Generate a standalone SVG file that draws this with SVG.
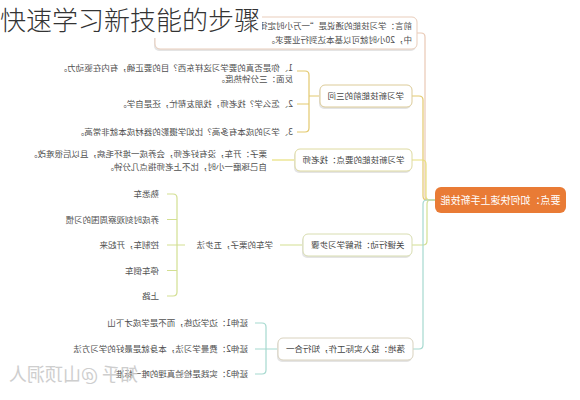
<svg xmlns="http://www.w3.org/2000/svg" width="580" height="400" viewBox="0 0 580 400">
<style>
text{font-family:"Noto Sans CJK SC","Noto Sans",sans-serif;}
.t{font-size:8.5px;fill:#505050}
.b{font-size:8.5px;fill:#444}
.sh{fill:#e4e4e4}
.c{fill:none;stroke-width:1.2;stroke-linejoin:round}
.o{stroke:#E9C9B5}.y{stroke:#E3C96E}.g{stroke:#E8E07C}.l{stroke:#D3DF92}.q{stroke:#A6D9CF}
.wm{font-size:18px;fill:#c9c9c9}
</style>
<rect width="580" height="400" fill="#fff"/>
<g transform="translate(580,0) scale(-1,1)">
<g id="connectors">
<path class="c o" d="M145,200 H151 Q155,200 155,196 V37 Q155,33 159,33 H163"/>
<path class="c y" d="M145,200 H153 Q157,200 157,196 V100 Q157,96 161,96 H168"/>
<path class="c g" d="M145,200 H150 Q154,200 154,196 V164 Q154,160 158,160 H168"/>
<path class="c l" d="M145,200 H149 Q153,200 153,204 V241 Q153,245 157,245 H168"/>
<path class="c q" d="M145,200 H153 Q157,200 157,204 V345 Q157,349 161,349 H167"/>
<path class="c y" d="M260,96 H271 M283,71 H275 Q271,71 271,75 V128 Q271,132 275,132 H283 M271,104 H283"/>
<path class="c g" d="M285,160 H308"/>
<path class="c l" d="M277,245 H300 M395,245 H403 M413,194 H407 Q403,194 403,198 V292 Q403,296 407,296 H413 M403,219.5 H413 M403,245 H413 M403,270.5 H413"/>
<path class="c q" d="M302,349 H314 M325,323 H318 Q314,323 314,327 V370 Q314,374 318,374 H325 M314,349 H325"/>
</g>
<g id="root">
<rect x="14" y="187" width="131" height="26" rx="6" fill="#E97B35"/>
<text x="79.5" y="203.5" font-size="10" fill="#fff" text-anchor="middle">要点：如何快速上手新技能</text>
</g>
<g id="preface">
<rect class="sh" x="164" y="19" width="262" height="32" rx="5"/>
<rect x="163" y="17" width="262" height="32" rx="5" fill="#fff" stroke="#E9CDBB"/>
<text class="t" x="168" y="29">前言：学习技能的通说是“一万小时定律”</text>
<text class="t" x="168" y="43">中，20小时就可以基本达到行业要求。</text>
</g>
<g id="b1">
<rect class="sh" x="169" y="87" width="92" height="22" rx="5"/>
<rect x="168" y="85" width="92" height="22" rx="5" fill="#fff" stroke="#DCCB98"/>
<text class="b" x="176" y="99">学习新技能前的三问</text>
</g>
<g id="b1c1">
<text class="t" x="287" y="70.5">1、你是否真的要学习这样东西？目的要正确，有内在驱动力。</text>
<text class="t" x="287" y="81.5">反面：三分钟热度。</text>
</g>
<g id="b1c2"><text class="t" x="287" y="107">2、怎么学？找老师，找朋友帮忙，还是自学。</text></g>
<g id="b1c3"><text class="t" x="287" y="135">3、学习的成本有多高？比如学摄影的器材成本就非常高。</text></g>
<g id="b2">
<rect class="sh" x="169" y="151" width="117" height="22" rx="5"/>
<rect x="168" y="149" width="117" height="22" rx="5" fill="#fff" stroke="#DEDAA0"/>
<text class="b" x="175.5" y="163">学习新技能的要点：找老师</text>
</g>
<g id="b2c1">
<text class="t" x="313" y="157">栗子：开车，没有好老师，会养成一堆坏毛病，且以后很难改。</text>
<text class="t" x="313" y="170">自己琢磨一小时，比不上老师指点几分钟。</text>
</g>
<g id="b3">
<rect class="sh" x="169" y="236" width="109" height="22" rx="5"/>
<rect x="168" y="234" width="109" height="22" rx="5" fill="#fff" stroke="#D8DDB0"/>
<text class="b" x="175.5" y="248">关键行动：拆解学习步骤</text>
</g>
<g id="b3m"><text class="t" x="307" y="248">学车的栗子，五步法</text></g>
<g id="b3c1"><text class="t" x="421" y="197">熟悉车</text></g>
<g id="b3c2"><text class="t" x="421" y="222.5">养成时刻观察周围的习惯</text></g>
<g id="b3c3"><text class="t" x="421" y="248">控制车，开起来</text></g>
<g id="b3c4"><text class="t" x="421" y="273.5">停车倒车</text></g>
<g id="b3c5"><text class="t" x="421" y="299">上路</text></g>
<g id="b4">
<rect class="sh" x="168" y="340" width="135" height="22" rx="5"/>
<rect x="167" y="338" width="135" height="22" rx="5" fill="#fff" stroke="#D9D2BE"/>
<text class="b" x="175" y="352">落地：投入实际工作，知行合一</text>
</g>
<g id="b4c1"><text class="t" x="332" y="326">延伸1：边学边练，而不是学成才下山</text></g>
<g id="b4c2"><text class="t" x="332" y="352">延伸2：费曼学习法，本身就是最好的学习方法</text></g>
<g id="b4c3"><text class="t" x="332" y="377">延伸3：实践是检验真理的唯一标准</text></g>
<text class="wm" x="442" y="381" opacity="0.9">知乎 @山顶洞人</text>
</g>
<rect x="0" y="0" width="262" height="38" fill="#fff"/>
<text x="0" y="30" font-size="26" fill="#333" font-weight="300">快速学习新技能的步骤</text>
</svg>
